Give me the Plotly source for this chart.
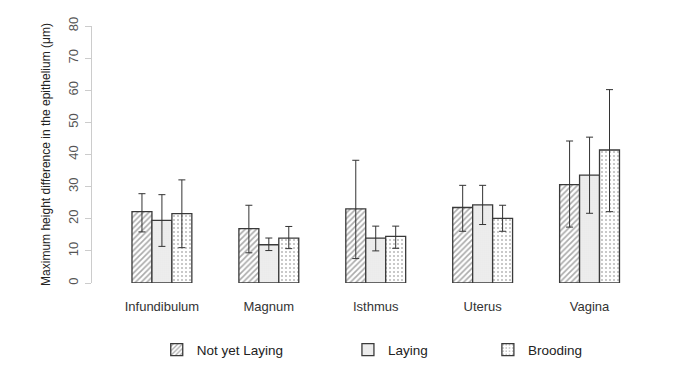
import plotly.graph_objects as go

categories = ["Infundibulum", "Magnum", "Isthmus", "Uterus", "Vagina"]
groups = ["Not yet Laying", "Laying", "Brooding"]

nyl_mean = [22.2, 16.9, 23.1, 23.5, 30.6]
nyl_upper = [27.8, 24.2, 38.2, 30.4, 44.2]
nyl_lower = [15.9, 9.4, 7.6, 16.1, 17.4]

lay_mean = [19.5, 11.9, 14.0, 24.3, 33.6]
lay_upper = [27.5, 14.0, 17.7, 30.4, 45.4]
lay_lower = [11.4, 10.1, 10.0, 18.2, 21.7]

brd_mean = [21.6, 14.0, 14.5, 20.1, 41.4]
brd_upper = [32.1, 17.6, 17.7, 24.2, 60.2]
brd_lower = [11.0, 10.7, 10.8, 16.1, 22.2]

y_ticks = [0, 10, 20, 30, 40, 50, 60, 70, 80]

series = [
    (groups[0], nyl_mean, nyl_upper, nyl_lower,
     dict(shape="/", size=4, solidity=0.4, fgcolor="#555555"), "legend", 0.1175),
    (groups[1], lay_mean, lay_upper, lay_lower,
     dict(shape=".", size=2, solidity=0.4, fgcolor="#999999"), "legend2", 0.4645),
    (groups[2], brd_mean, brd_upper, brd_lower,
     dict(shape=".", size=4, solidity=0.22, fgcolor="#777777"), "legend3", 0.7185),
]

fig = go.Figure()
legend_layout = {}
for name, mean, up, lo, pat, leg, lx in series:
    fig.add_trace(go.Bar(
        name=name,
        x=categories,
        y=mean,
        legend=leg,
        error_y=dict(
            type="data",
            symmetric=False,
            array=[u - m for u, m in zip(up, mean)],
            arrayminus=[m - l for m, l in zip(mean, lo)],
            color="#333333",
            thickness=1,
            width=3.5,
        ),
        marker=dict(
            color="white",
            line=dict(color="#3a3a3a", width=1.3),
            pattern=dict(bgcolor="white", fillmode="overlay", **pat),
        ),
    ))
    legend_layout[leg] = dict(
        xref="paper", yref="paper",
        x=lx, xanchor="left",
        y=-0.26, yanchor="middle",
        font=dict(size=13.5, color="#222222"),
        bgcolor="rgba(0,0,0,0)",
    )

fig.update_layout(
    width=677,
    height=381,
    barmode="group",
    bargap=0.44,
    bargroupgap=0,
    plot_bgcolor="white",
    paper_bgcolor="white",
    margin=dict(l=84, r=42, t=18, b=106),
    font=dict(family="Liberation Sans, Arial, sans-serif", color="#333333"),
    showlegend=True,
    xaxis=dict(
        type="category",
        range=[-0.654, 4.5],
        showline=False,
        showgrid=False,
        ticks="",
        automargin=False,
        tickfont=dict(size=13, color="#333333"),
        ticklabelstandoff=14,
    ),
    yaxis=dict(
        range=[0, 80],
        tickvals=y_ticks,
        ticktext=[str(v) for v in y_ticks],
        tickangle=-90,
        showline=True,
        linecolor="#cccccc",
        linewidth=1,
        ticks="outside",
        ticklen=6,
        tickcolor="#cccccc",
        showgrid=False,
        zeroline=False,
        automargin=False,
        ticklabelstandoff=2,
        tickfont=dict(size=13, color="#555555"),
        title=dict(
            text="Maximum height difference in the epithelium (μm)",
            font=dict(size=12, color="#222222"),
            standoff=12,
        ),
    ),
    **legend_layout,
)

fig.write_html("out.html")
